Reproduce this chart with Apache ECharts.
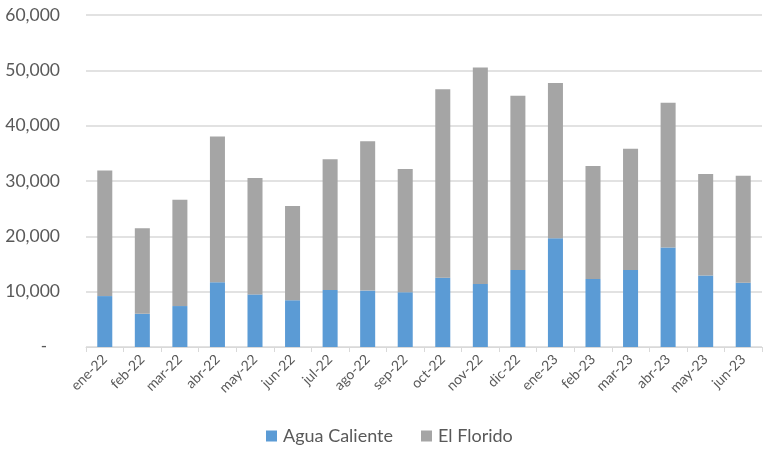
<!DOCTYPE html>
<html>
<head>
<meta charset="utf-8">
<script src="https://cdn.jsdelivr.net/npm/echarts@6/dist/echarts.min.js"></script>
<style>
  html, body { margin: 0; padding: 0; background: #ffffff; }
  #chart { width: 764px; height: 449px; }
</style>
</head>
<body>
<div id="chart"></div>
<script>
// Monthly categories (Spanish month abbreviations)
const months = ['ene-22', 'feb-22', 'mar-22', 'abr-22', 'may-22', 'jun-22', 'jul-22', 'ago-22', 'sep-22',
  'oct-22', 'nov-22', 'dic-22', 'ene-23', 'feb-23', 'mar-23', 'abr-23', 'may-23', 'jun-23'];

// Agua Caliente (bottom of each stack)
const aguaCaliente = [9200, 6000, 7400, 11700, 9500, 8450, 10300, 10200, 9900,
  12500, 11400, 13900, 19650, 12300, 13900, 18000, 12900, 11600];

// El Florido (top of each stack)
const elFlorido = [22700, 15450, 19200, 26350, 21050, 17050, 23650, 27000, 22250,
  34100, 39100, 31500, 28050, 20400, 21950, 26150, 18350, 19350];

const yTicks = { min: 0, max: 60000, interval: 10000 };

const seriesNames = ['Agua Caliente', 'El Florido'];
const colors = ['#5B9BD5', '#A5A5A5'];
const textColor = '#595959';
const fontFamily = 'Lato, "Open Sans", sans-serif';

const chart = echarts.init(document.getElementById('chart'));
chart.setOption({
  animation: false,
  color: colors,
  textStyle: { fontFamily: fontFamily },
  grid: { left: 86, right: 2, top: 15, bottom: 102, containLabel: false },
  legend: {
    top: 427,
    left: 266,
    padding: 0,
    itemWidth: 11,
    itemHeight: 11,
    itemGap: 28,
    icon: 'rect',
    textStyle: { fontSize: 18, color: textColor, fontFamily: fontFamily, padding: [0, 0, 0, 1] },
    data: seriesNames
  },
  xAxis: {
    type: 'category',
    data: months,
    boundaryGap: true,
    axisLine: { lineStyle: { color: '#d9d9d9', width: 1 } },
    axisTick: { show: true, alignWithLabel: false, length: 5, lineStyle: { color: '#d9d9d9' } },
    axisLabel: {
      rotate: 45,
      interval: 0,
      fontSize: 14,
      color: textColor,
      fontFamily: fontFamily,
      margin: 10
    }
  },
  yAxis: {
    type: 'value',
    min: yTicks.min,
    max: yTicks.max,
    interval: yTicks.interval,
    axisLine: { show: false },
    axisTick: { show: false },
    splitLine: { lineStyle: { color: '#d9d9d9', width: 1.5 } },
    axisLabel: {
      fontSize: 17.5,
      color: textColor,
      fontFamily: fontFamily,
      margin: 26,
      formatter: function (v) {
        if (v === 0) return '{d|-}';
        return v.toLocaleString('en-US');
      },
      rich: {
        d: { fontSize: 17, color: textColor, padding: [0, 13, 0, 0] }
      }
    }
  },
  series: [
    {
      name: seriesNames[0],
      type: 'bar',
      stack: 'total',
      barWidth: '40%',
      data: aguaCaliente
    },
    {
      name: seriesNames[1],
      type: 'bar',
      stack: 'total',
      barWidth: '40%',
      data: elFlorido
    }
  ]
});
</script>
</body>
</html>
